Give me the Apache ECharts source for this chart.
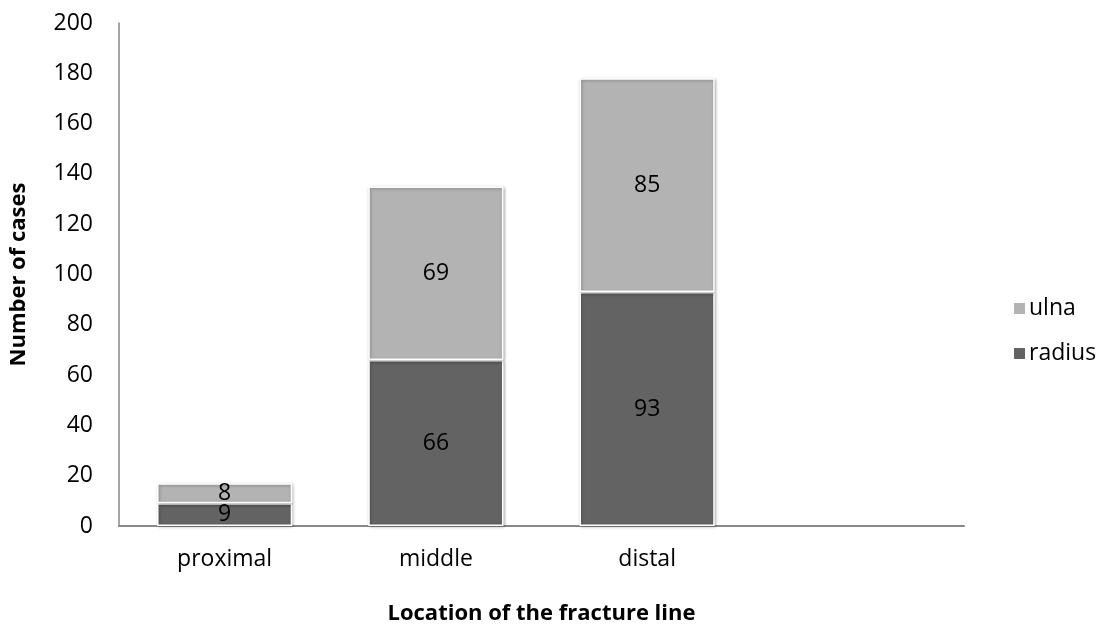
<!DOCTYPE html>
<html>
<head>
<meta charset="utf-8">
<script src="https://cdn.jsdelivr.net/npm/echarts@6/dist/echarts.min.js"></script>
<style>
html,body{margin:0;padding:0;background:#fff;}
#c{width:1102px;height:630px;}
</style>
</head>
<body>
<div id="c"></div>
<script>
const categories = ['proximal', 'middle', 'distal', ''];
const radius = [9, 66, 93, null];
const ulna = [8, 69, 85, null];
const yTicksMax = 200;
const yTickStep = 20;

const FONT = '"Open Sans", sans-serif';
const chart = echarts.init(document.getElementById('c'), null, {renderer: 'canvas'});

function barSeries(name, data, color) {
  return {
    name: name,
    type: 'bar',
    stack: 'total',
    data: data,
    barCategoryGap: '36%',
    itemStyle: {
      color: color,
      borderColor: '#ffffff',
      borderWidth: 1.5,
      shadowBlur: 3,
      shadowColor: 'rgba(0,0,0,0.3)',
      shadowOffsetX: 1,
      shadowOffsetY: 1
    },
    label: {
      show: true,
      position: 'inside',
      color: '#000',
      fontFamily: FONT,
      fontSize: 23
    },
    emphasis: {disabled: true}
  };
}

chart.setOption({
  animation: false,
  backgroundColor: '#fff',
  grid: {left: 108, right: 138, top: 23, bottom: 87, containLabel: false},
  legend: {
    orient: 'vertical',
    left: 1007,
    top: 292,
    itemWidth: 13,
    itemHeight: 13,
    itemGap: 22,
    icon: 'rect',
    data: ['ulna', 'radius'],
    textStyle: {fontFamily: FONT, fontSize: 23, color: '#000', padding: [0, 0, 0, -2]}
  },
  xAxis: {
    type: 'category',
    data: categories,
    name: 'Location of the fracture line',
    nameLocation: 'middle',
    nameGap: 77,
    nameTextStyle: {fontFamily: FONT, fontSize: 22, fontWeight: 'bold', color: '#000'},
    axisLine: {lineStyle: {color: '#888', width: 2}},
    axisTick: {show: false},
    axisLabel: {fontFamily: FONT, fontSize: 23, color: '#000', margin: 22}
  },
  yAxis: {
    type: 'value',
    min: 0,
    max: yTicksMax,
    interval: yTickStep,
    name: 'Number of cases',
    nameLocation: 'middle',
    nameGap: 89,
    nameRotate: 90,
    nameTextStyle: {fontFamily: FONT, fontSize: 22, fontWeight: 'bold', color: '#000'},
    axisLine: {show: true, lineStyle: {color: '#888', width: 1.5}},
    axisTick: {show: false},
    splitLine: {show: false},
    axisLabel: {fontFamily: FONT, fontSize: 23, color: '#000', margin: 26}
  },
  series: [
    barSeries('radius', radius, '#636363'),
    barSeries('ulna', ulna, '#b3b3b3')
  ]
});
</script>
</body>
</html>
